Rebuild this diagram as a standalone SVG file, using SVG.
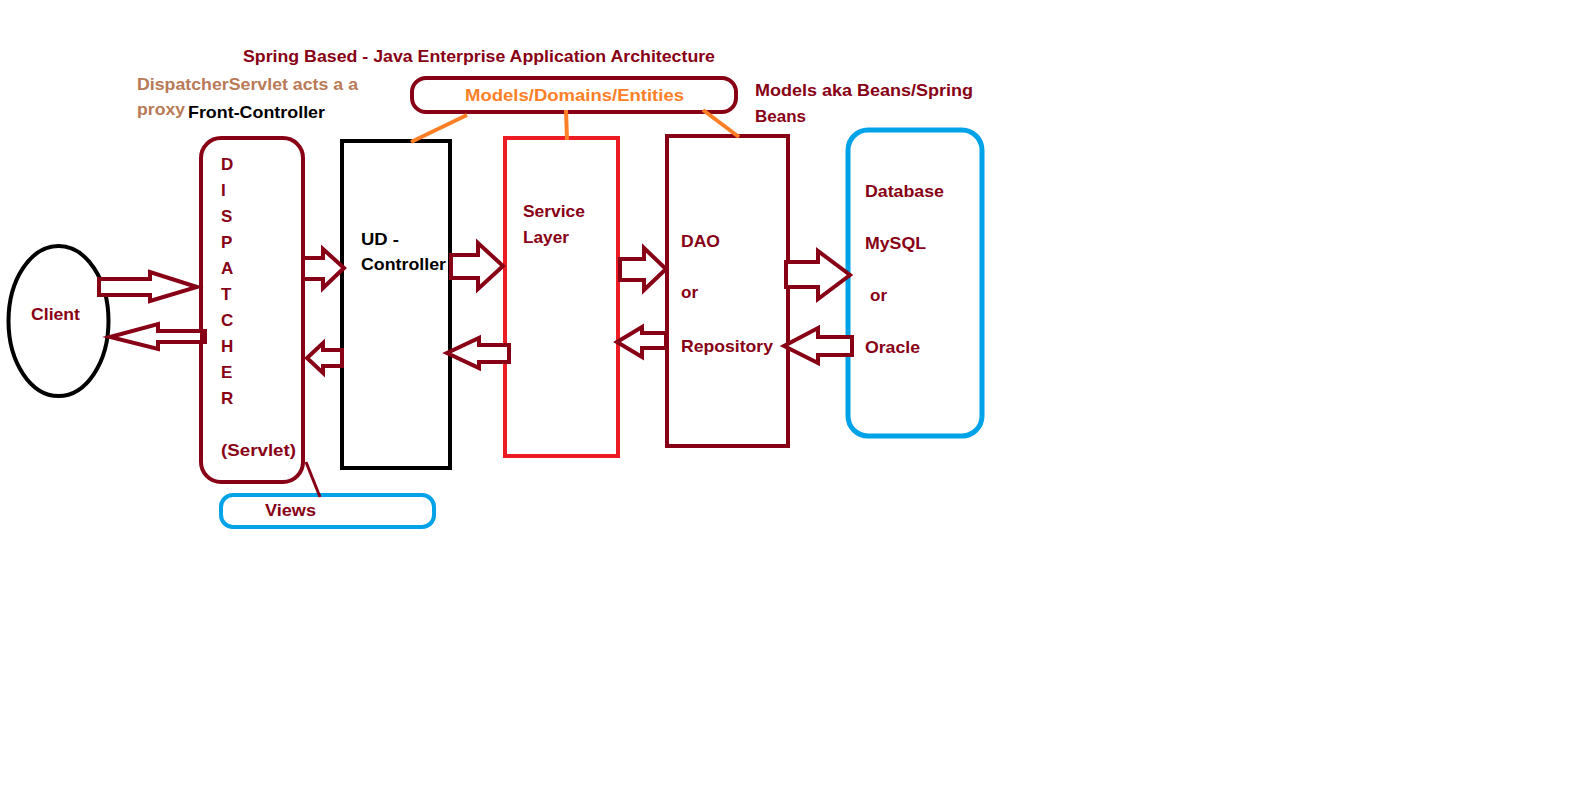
<svg xmlns="http://www.w3.org/2000/svg" width="1570" height="788" viewBox="0 0 1570 788">
<style>
text{font-family:"Liberation Sans",Arial,sans-serif;font-weight:bold;font-size:17px}
.dr{fill:#880015}
.bk{fill:#000}
.tan{fill:#B97A57}
.or{fill:#FF7F27}
.arrow{fill:#fff;stroke:#880015;stroke-width:4;stroke-linejoin:miter}
.link{stroke:#FF7F27;stroke-width:4;fill:none}
</style>
<rect width="1570" height="788" fill="#fff"/>
<g id="title">
<text class="dr" x="243" y="62" textLength="472" lengthAdjust="spacingAndGlyphs">Spring Based - Java Enterprise Application Architecture</text>
</g>
<g id="note-dispatcher">
<text class="tan" x="137" y="90" textLength="221" lengthAdjust="spacingAndGlyphs">DispatcherServlet acts a a</text>
<text class="tan" x="137" y="115" textLength="48" lengthAdjust="spacingAndGlyphs">proxy</text>
<text class="bk" x="188" y="118" textLength="137" lengthAdjust="spacingAndGlyphs">Front-Controller</text>
</g>
<g id="note-models">
<text class="dr" x="755" y="96" textLength="218" lengthAdjust="spacingAndGlyphs">Models aka Beans/Spring</text>
<text class="dr" x="755" y="122" textLength="51" lengthAdjust="spacingAndGlyphs">Beans</text>
</g>
<g id="models">
<rect x="412" y="78" width="324" height="34" rx="14" fill="none" stroke="#880015" stroke-width="4"/>
<text class="or" x="465" y="101" textLength="219" lengthAdjust="spacingAndGlyphs">Models/Domains/Entities</text>
</g>
<g id="client">
<ellipse cx="58.5" cy="321" rx="50" ry="75" fill="none" stroke="#000" stroke-width="4"/>
<text class="dr" x="31" y="320" textLength="49" lengthAdjust="spacingAndGlyphs">Client</text>
</g>
<g id="dispatcher">
<rect x="201" y="138" width="102" height="344" rx="20" fill="none" stroke="#880015" stroke-width="4"/>
<text class="dr" x="221" y="170">D</text>
<text class="dr" x="221" y="196">I</text>
<text class="dr" x="221" y="222">S</text>
<text class="dr" x="221" y="248">P</text>
<text class="dr" x="221" y="274">A</text>
<text class="dr" x="221" y="300">T</text>
<text class="dr" x="221" y="326">C</text>
<text class="dr" x="221" y="352">H</text>
<text class="dr" x="221" y="378">E</text>
<text class="dr" x="221" y="404">R</text>
<text class="dr" x="221" y="456" textLength="75" lengthAdjust="spacingAndGlyphs">(Servlet)</text>
</g>
<g id="views">
<rect x="221" y="495" width="213" height="32" rx="12" fill="none" stroke="#00A2E8" stroke-width="4"/>
<text class="dr" x="265" y="516" textLength="51" lengthAdjust="spacingAndGlyphs">Views</text>
</g>
<g id="controller">
<rect x="342" y="141" width="108" height="327" fill="none" stroke="#000" stroke-width="4"/>
<text class="bk" x="361" y="245" textLength="38" lengthAdjust="spacingAndGlyphs">UD -</text>
<text class="bk" x="361" y="270" textLength="85" lengthAdjust="spacingAndGlyphs">Controller</text>
</g>
<g id="service">
<rect x="505" y="138" width="113" height="318" fill="none" stroke="#ED1C24" stroke-width="4"/>
<text class="dr" x="523" y="217" textLength="62" lengthAdjust="spacingAndGlyphs">Service</text>
<text class="dr" x="523" y="243" textLength="46" lengthAdjust="spacingAndGlyphs">Layer</text>
</g>
<g id="dao">
<rect x="667" y="136" width="121" height="310" fill="none" stroke="#880015" stroke-width="4"/>
<text class="dr" x="681" y="247" textLength="39" lengthAdjust="spacingAndGlyphs">DAO</text>
<text class="dr" x="681" y="298" textLength="17" lengthAdjust="spacingAndGlyphs">or</text>
<text class="dr" x="681" y="352" textLength="92" lengthAdjust="spacingAndGlyphs">Repository</text>
</g>
<g id="database">
<rect x="848" y="130" width="134" height="306" rx="20" fill="none" stroke="#00A2E8" stroke-width="5"/>
<text class="dr" x="865" y="197" textLength="79" lengthAdjust="spacingAndGlyphs">Database</text>
<text class="dr" x="865" y="249" textLength="61" lengthAdjust="spacingAndGlyphs">MySQL</text>
<text class="dr" x="870" y="301" textLength="17" lengthAdjust="spacingAndGlyphs">or</text>
<text class="dr" x="865" y="353" textLength="55" lengthAdjust="spacingAndGlyphs">Oracle</text>
</g>
<g id="connectors">
<line class="link" x1="467" y1="115" x2="411" y2="142"/>
<line class="link" x1="566" y1="110" x2="567" y2="140"/>
<line class="link" x1="703" y1="110" x2="739" y2="137"/>
<line x1="306" y1="462" x2="320" y2="497" stroke="#880015" stroke-width="3"/>
<polygon class="arrow" points="99,279 150,279 150,272 197,287 150,301 150,295 99,295"/>
<polygon class="arrow" points="205,331 158,331 158,324 110,337 158,349 158,342 205,342"/>
<rect x="200" y="330" width="6" height="13" fill="#880015"/>
<polygon class="arrow" points="303,258 323,258 323,249 344,268 323,288 323,279 303,279"/>
<polygon class="arrow" points="342,350 323,350 323,343 307,358 323,373 323,366 342,366"/>
<polygon class="arrow" points="451,255 478,255 478,243 503,266 478,289 478,278 451,278"/>
<polygon class="arrow" points="509,345 479,345 479,338 447,353 479,368 479,362 509,362"/>
<polygon class="arrow" points="620,259 644,259 644,248 666,269 644,290 644,280 620,280"/>
<polygon class="arrow" points="666,333 642,333 642,327 617,342 642,357 642,348 666,348"/>
<polygon class="arrow" points="786,262 818,262 818,251 850,275 818,299 818,287 786,287"/>
<polygon class="arrow" points="852,337 818,337 818,328 784,346 818,363 818,355 852,355"/>
</g>
</svg>
